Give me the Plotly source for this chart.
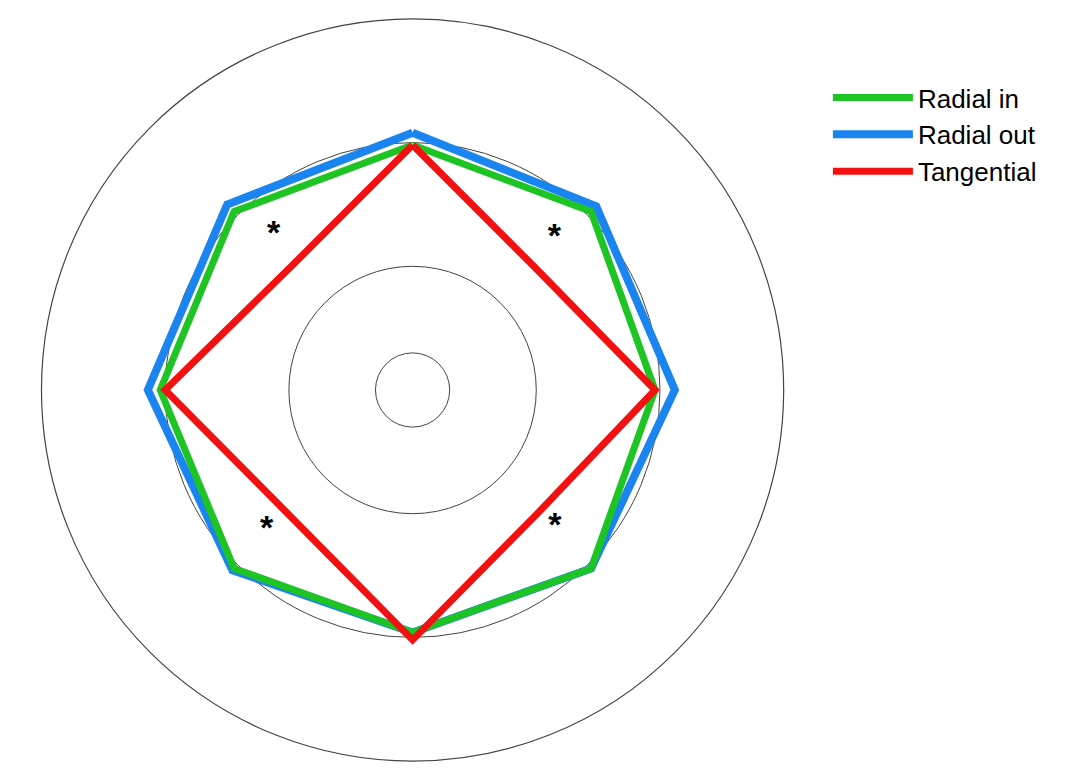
import plotly.graph_objects as go

# directions (degrees, clockwise from top)
angles = [0, 45, 90, 135, 180, 225, 270, 315]
radial_in = [0.99, 1.02, 0.98, 1.02, 0.98, 1.02, 1.02, 1.02]
radial_out = [1.04, 1.05, 1.06, 1.02, 0.98, 1.03, 1.07, 1.06]
tangential = [0.99, 0.70, 0.98, 0.71, 1.01, 0.71, 1.00, 0.70]
ring_values = [0.15, 0.5, 1.0, 1.5]

# significance markers
star_r = [0.84, 0.84, 0.82, 0.80]
star_theta = [318, 43, 226, 134]

def closed(v):
    return v + v[:1]

fig = go.Figure()
# blue drawn first, green on top; legend order fixed with legendrank
fig.add_trace(go.Scatterpolar(r=closed(radial_out), theta=closed(angles), mode="lines",
                              name="Radial out", legendrank=2,
                              line=dict(color="#1a85f0", width=8)))
fig.add_trace(go.Scatterpolar(r=closed(radial_in), theta=closed(angles), mode="lines",
                              name="Radial in", legendrank=1,
                              line=dict(color="#1dc424", width=7)))
fig.add_trace(go.Scatterpolar(r=closed(tangential), theta=closed(angles), mode="lines",
                              name="Tangential", legendrank=3,
                              line=dict(color="#f21010", width=7)))
fig.add_trace(go.Scatterpolar(r=star_r, theta=star_theta, mode="text", text=["<b>*</b>"] * 4,
                              textfont=dict(size=34, color="black"), showlegend=False))

fig.update_layout(
    width=1076, height=778,
    margin=dict(l=0, r=0, t=0, b=0),
    paper_bgcolor="white",
    font=dict(family="Liberation Sans, Arial", size=26, color="black"),
    polar=dict(
        domain=dict(x=[0.031, 0.721], y=[0.032, 0.986]),
        bgcolor="white",
        radialaxis=dict(range=[0, 1.5], tickvals=ring_values, showticklabels=False,
                        showline=False, ticks="", gridcolor="#444", gridwidth=1.2),
        angularaxis=dict(rotation=90, direction="clockwise", showgrid=False,
                         showticklabels=False, ticks="", showline=True,
                         linecolor="#444", linewidth=1.2),
    ),
    legend=dict(x=0.762, y=0.915, xanchor="left", yanchor="top",
                font=dict(size=26), itemwidth=80, tracegroupgap=0),
)
fig.write_html("out.html")
